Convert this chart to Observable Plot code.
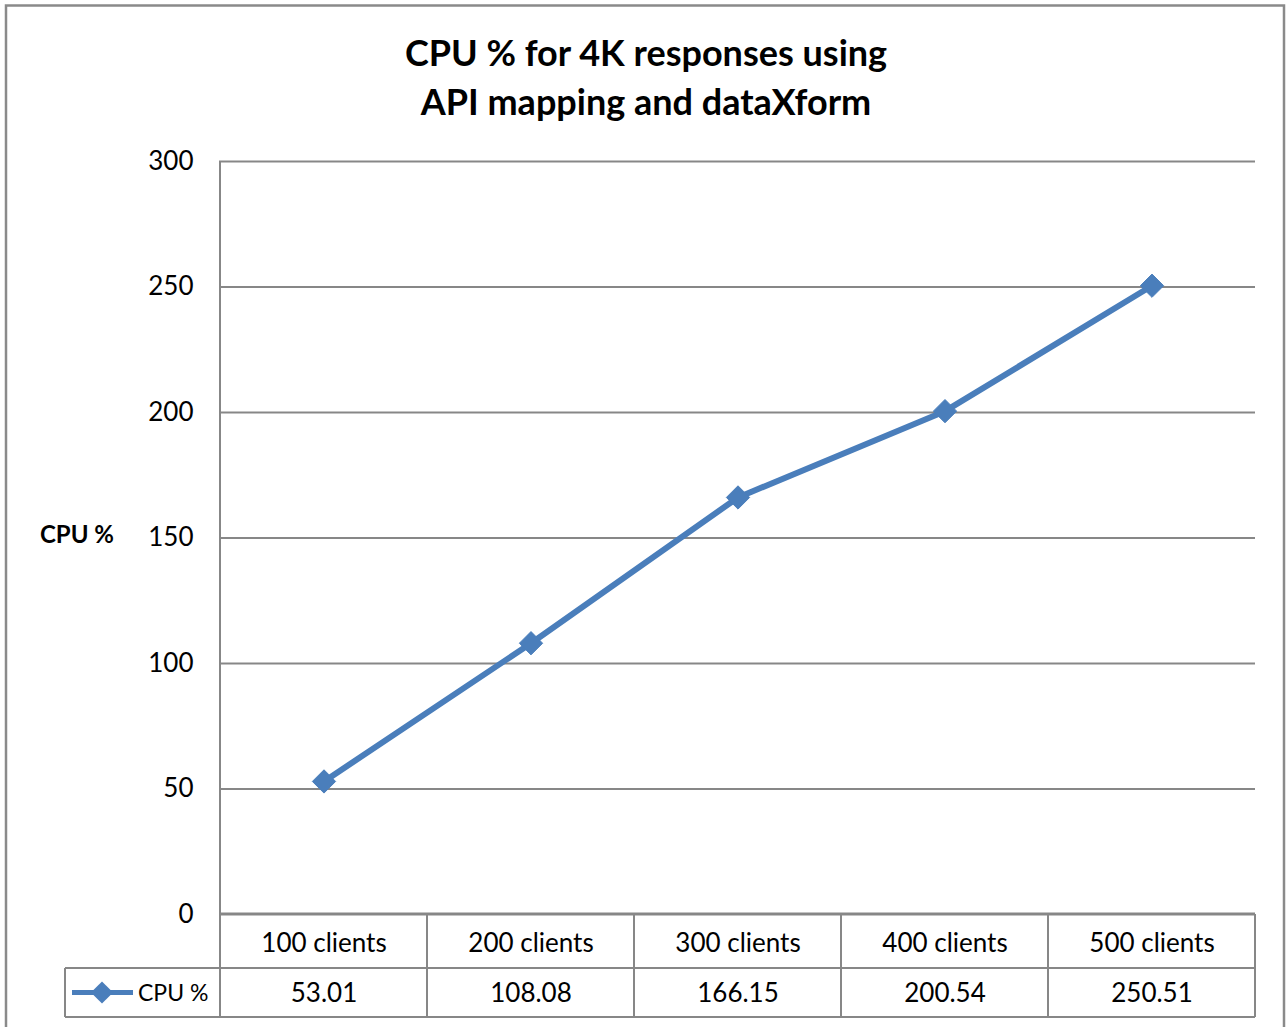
<!DOCTYPE html>
<html><head><meta charset="utf-8">
<script src="https://cdn.jsdelivr.net/npm/d3@7"></script>
<script src="https://cdn.jsdelivr.net/npm/@observablehq/plot@0.6"></script>
<style>html,body{margin:0;padding:0;background:#fff;overflow:hidden} svg{display:block}</style>
</head><body><div id="chart"></div>
<script>
const categories = ["100 clients", "200 clients", "300 clients", "400 clients", "500 clients"];
const cpuValues = [53.01, 108.08, 166.15, 200.54, 250.51];
const yTicks = [0, 50, 100, 150, 200, 250, 300];
const seriesName = "CPU %";
const yTitle = "CPU %";
const titleLines = ["CPU % for 4K responses using", "API mapping and dataXform"];

const data = categories.map((c, i) => ({category: c, value: cpuValues[i]}));

const FONT = "Lato, 'Open Sans', sans-serif";
const GRAY = "#878787";
const BLUE = "#4A7EBB";
const W = 1286, H = 1027;

const chart = Plot.plot({
  width: W, height: H,
  marginLeft: 219, marginRight: 31, marginTop: 161, marginBottom: 113,
  style: {fontFamily: FONT, background: "#fff", overflow: "visible", color: "#000"},
  x: {type: "band", domain: categories, padding: 0, axis: null},
  y: {domain: [0, 300], axis: null},
  marks: [
    Plot.ruleY(yTicks.filter(d => d > 0), {stroke: GRAY, strokeWidth: 2}),
    Plot.text(yTicks, {y: d => d, text: d => String(d), frameAnchor: "left", textAnchor: "end", lineAnchor: "middle", dx: -26, fontSize: 26, fill: "#000"}),
    Plot.text(categories, {x: d => d, text: d => d, frameAnchor: "bottom", lineAnchor: "middle", dy: 29, fontSize: 26, fill: "#000"}),
    Plot.text(data, {x: "category", text: d => d.value.toFixed(2), frameAnchor: "bottom", lineAnchor: "middle", dy: 79, fontSize: 26, fill: "#000"}),
    Plot.line(data, {x: "category", y: "value", stroke: BLUE, strokeWidth: 6, strokeLinejoin: "round"}),
    Plot.dot(data, {x: "category", y: "value", symbol: "diamond2", r: 10.5, fill: BLUE, stroke: BLUE, strokeWidth: 1})
  ]
});

document.getElementById("chart").appendChild(chart);

const svg = d3.select(chart);
const xs = chart.scale("x"), ys = chart.scale("y");
const bw = xs.bandwidth;
const edges = categories.map(c => xs.apply(c)).concat([xs.apply(categories[categories.length - 1]) + bw]);
const y0 = ys.apply(0), yTop = ys.apply(300);
const row1 = y0 + 54, row2 = y0 + 103;
const legendLeft = 65;
const left = edges[0], right = edges[edges.length - 1];

const g = svg.append("g").attr("stroke", GRAY).attr("fill", "none");
// outer chart border
g.append("rect").attr("x", 6).attr("y", 5.5).attr("width", 1278).attr("height", H + 20).attr("stroke-width", 2.5).attr("stroke", "#8a8a8a");
// table vertical lines
edges.forEach((x, i) => {
  g.append("line").attr("x1", x).attr("x2", x).attr("y1", i === 0 ? yTop : y0).attr("y2", row2).attr("stroke-width", 2);
});
g.append("line").attr("x1", legendLeft).attr("x2", legendLeft).attr("y1", row1).attr("y2", row2).attr("stroke-width", 2);
g.append("line").attr("x1", legendLeft).attr("x2", right).attr("y1", row1).attr("y2", row1).attr("stroke-width", 2);
g.append("line").attr("x1", legendLeft).attr("x2", right).attr("y1", row2).attr("y2", row2).attr("stroke-width", 2);
// x axis line
g.append("line").attr("x1", left).attr("x2", right).attr("y1", y0).attr("y2", y0).attr("stroke-width", 3);

// legend key
const ly = (row1 + row2) / 2;
svg.append("line").attr("x1", 72).attr("x2", 133).attr("y1", ly).attr("y2", ly).attr("stroke", BLUE).attr("stroke-width", 5);
svg.append("path").attr("d", d3.symbol(d3.symbolDiamond2, Math.PI * 10 * 10)()).attr("transform", `translate(102,${ly})`).attr("fill", BLUE);
svg.append("text").attr("x", 138).attr("y", ly).attr("dy", "0.35em").attr("text-anchor", "start").attr("font-size", 23).attr("fill", "#000").attr("font-family", FONT).text(seriesName);

// y axis title
svg.append("text").attr("x", 77).attr("y", ys.apply(150) - 3).attr("text-anchor", "middle").attr("dy", "0.35em")
  .attr("font-size", 24).attr("font-weight", "bold").attr("fill", "#000").attr("font-family", FONT).text(yTitle);

// title
titleLines.forEach((t, i) => {
  svg.append("text").attr("x", 646).attr("y", 66 + i * 49).attr("text-anchor", "middle")
    .attr("font-size", 36).attr("font-weight", "bold").attr("fill", "#000").attr("font-family", FONT).text(t);
});
</script>
</body></html>
